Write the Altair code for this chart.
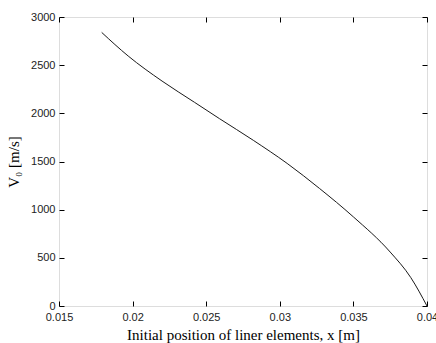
import altair as alt
import pandas as pd

x_pos = [0.0179, 0.0197, 0.0220, 0.0242, 0.0259, 0.0282, 0.0305, 0.0327, 0.0350, 0.0375, 0.0389, 0.0400]
v0 = [2840, 2595, 2335, 2115, 1945, 1720, 1480, 1220, 925, 560, 295, 0]
x_ticks = [0.015, 0.02, 0.025, 0.03, 0.035, 0.04]
y_ticks = [0, 500, 1000, 1500, 2000, 2500, 3000]

df = pd.DataFrame({"x": x_pos, "v": v0})

lab = dict(labelFont="Liberation Sans", labelFontSize=11, labelColor="#222",
           titleFont="Liberation Serif", titleFontSize=15, titleFontWeight="normal",
           titleColor="#000", tickColor="#000", tickSize=5, tickWidth=1,
           domain=False, grid=False, offset=-5, labelFlush=False, labelOverlap=False)

xs = alt.Scale(domain=[0.015, 0.04], nice=False, zero=False)
ys = alt.Scale(domain=[0, 3000], nice=False)

main = alt.Chart(df).mark_line(color="#1a1a1a", strokeWidth=1, interpolate="monotone").encode(
    x=alt.X("x:Q", scale=xs,
            axis=alt.Axis(values=x_ticks, format="~g", orient="bottom", labelPadding=5,
                          title="Initial position of liner elements, x [m]", titlePadding=5, **lab)),
    y=alt.Y("v:Q", scale=ys,
            axis=alt.Axis(values=y_ticks, format="d", orient="left", labelPadding=4,
                          title="V₀ [m/s]", titlePadding=9, **lab)),
)

frame = alt.Chart(df).mark_line(opacity=0).encode(
    x=alt.X("x:Q", scale=xs,
            axis=alt.Axis(values=x_ticks, orient="top", labels=False, title=None, **lab)),
    y=alt.Y("v:Q", scale=ys,
            axis=alt.Axis(values=y_ticks, orient="right", labels=False, title=None, **lab)),
)

chart = alt.layer(main, frame).resolve_axis(x="independent", y="independent").properties(
    width=368, height=289,
    autosize=alt.AutoSizeParams(type="none"),
    padding={"left": 59, "top": 17, "right": 9, "bottom": 37},
).configure_view(stroke="#000", strokeWidth=1).configure(background="white")

chart.save("out.html", embed_options={"renderer": "svg", "actions": False})
